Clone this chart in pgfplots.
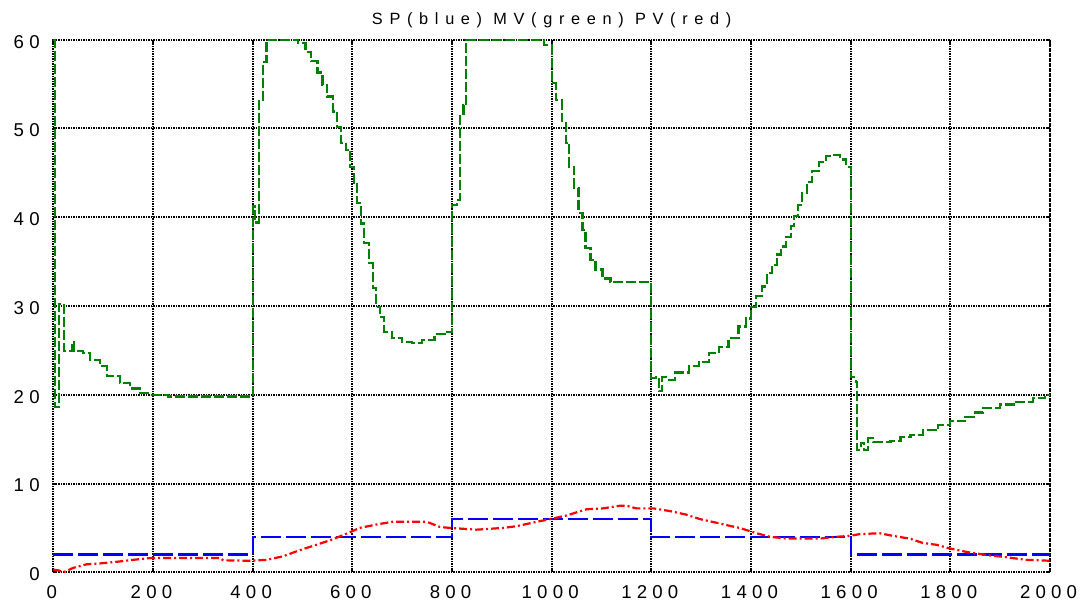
\documentclass[border=0pt]{standalone}
\usepackage{fontspec}
\usepackage{pgfplots}
\pgfplotsset{compat=1.18}
\setmainfont{Liberation Sans}
\newfontfamily\tickfont[LetterSpace=28]{Liberation Sans}
\newfontfamily\titlefont[LetterSpace=41]{Liberation Sans}
\definecolor{mvgreen}{RGB}{0,128,0}
\definecolor{spblue}{RGB}{0,0,255}
\definecolor{pvred}{RGB}{255,0,0}
\begin{document}
\begin{tikzpicture}[x=1bp,y=1bp]
\useasboundingbox (0,0) rectangle (1081,606);
\begin{axis}[
  at={(53.3bp,33.7bp)}, anchor=south west,
  scale only axis, width=996.7bp, height=532.6bp,
  xmin=0, xmax=2000, ymin=0, ymax=60,
  xtick={0,200,...,2000}, ytick={0,10,...,60},
  grid=major,
  grid style={black, line width=2bp, dash pattern=on 1.3bp off 1.2bp},
  axis line style={black, line width=2.2bp, dash pattern=on 1.3bp off 1.2bp},
  tick style={black, line width=2bp},
  major tick length=3bp,
  /pgf/number format/assume math mode=true,
  /pgf/number format/1000 sep={},
  xticklabel style={font={\tickfont\fontsize{18.6bp}{20bp}\selectfont}, anchor=base, xshift=-1.5bp, yshift=-26.7bp, inner sep=0pt},
  yticklabel style={font={\tickfont\fontsize{18.6bp}{20bp}\selectfont}, anchor=east, xshift=-13.5bp, yshift=-2bp, inner sep=0pt},
  title={SP(blue) MV(green) PV(red)},
  title style={font={\titlefont\fontsize{16.3bp}{18bp}\selectfont}, at={(0.5,1)}, anchor=base, yshift=9bp, inner sep=0pt},
  clip=false,
]
\addplot[const plot, mvgreen, line width=2.2bp, dash pattern=on 10bp off 3bp] coordinates {
(0,60) (3,18.6) (11,30.2) (21,24.9) (37,25.9) (41,24.9) (60,24.7) (74,23.9) (94,23.2)
(107,22.1) (134,21.3) (154,20.7) (174,20.2) (194,20.0) (230,19.8)
(400,41.2) (404,39.4) (413,53.1) (421,57.5) (428,60) (491,59.6) (506,58.6) (517,57.6)
(530,56.3) (540,54.9) (550,53.6) (562,51.9) (570,50.2) (577,48.4) (587,47.6) (596,45.7)
(604,43.9) (610,41.6) (617,39.3) (624,37.1) (634,34.8) (641,32.0) (648,29.9) (655,28.8)
(664,27.1) (680,26.4) (700,25.9) (720,25.8) (740,26.2) (765,26.8) (790,27.1)
(800,41.4) (810,41.9) (816,51.6) (823,52.6) (828,60) (985,59.4) (1000,55.1) (1008,53.2)
(1020,50.8) (1028,48.4) (1035,45.7) (1045,43.3) (1054,40.5) (1062,38.6) (1068,36.5)
(1078,35.2) (1088,34.1) (1102,33.1) (1118,32.7)
(1200,21.9) (1210,22.0) (1215,20.4) (1222,22.0) (1235,21.7) (1248,22.5) (1275,23.2)
(1295,23.7) (1315,24.7) (1335,25.4) (1355,26.4) (1375,27.7) (1390,28.6) (1400,29.9)
(1410,31.1) (1422,32.2) (1432,33.7) (1442,34.6) (1452,35.8) (1460,36.7) (1470,37.8)
(1480,39.0) (1487,40.1) (1494,41.4) (1503,42.7) (1513,44.0) (1523,45.2) (1536,46.2)
(1550,46.9) (1562,47.0) (1578,46.5) (1590,45.7)
(1600,22.0) (1610,21.4) (1613,13.8) (1620,14.6) (1626,13.8) (1635,15.1) (1645,14.7)
(1680,14.8) (1700,15.2) (1720,15.5) (1745,16.0) (1775,16.6) (1800,17.0) (1830,17.5)
(1850,18.0) (1866,18.5) (1900,18.9) (1932,19.2) (1966,19.6) (1990,20.0) (2000,20.0)
};
\addplot[const plot, spblue, line width=2.2bp, dash pattern=on 20bp off 5bp] coordinates {
(0,2) (400,4) (800,6) (1200,4) (1600,2) (2000,2)
};
\addplot[pvred, line width=2.2bp, dash pattern=on 8bp off 3bp on 2bp off 3bp] coordinates {
(0,0.3) (12,0.2) (18,0.0) (25,0.1) (40,0.5) (67,0.9) (94,1.0) (130,1.2) (160,1.4)
(194,1.6) (250,1.6) (335,1.6) (341,1.35) (394,1.3) (428,1.4) (461,1.8) (495,2.5)
(528,3.1) (555,3.6) (582,4.2) (615,5.0) (650,5.4) (682,5.7) (749,5.7) (776,5.1)
(796,5.0) (849,4.8) (903,5.0) (930,5.2) (963,5.6) (997,6.0) (1030,6.4) (1070,7.1)
(1103,7.2) (1137,7.5) (1150,7.5) (1170,7.2) (1204,7.2) (1237,6.9) (1270,6.5)
(1297,6.0) (1337,5.5) (1360,5.2) (1377,5.0) (1411,4.4) (1438,4.0) (1471,3.8)
(1538,3.8) (1572,4.0) (1598,4.1) (1618,4.3) (1658,4.4) (1685,4.1) (1718,3.8)
(1745,3.3) (1772,3.1) (1798,2.7) (1832,2.3) (1872,1.95) (1912,1.7) (1952,1.4) (2000,1.3)
};
\end{axis}
\end{tikzpicture}
\end{document}
